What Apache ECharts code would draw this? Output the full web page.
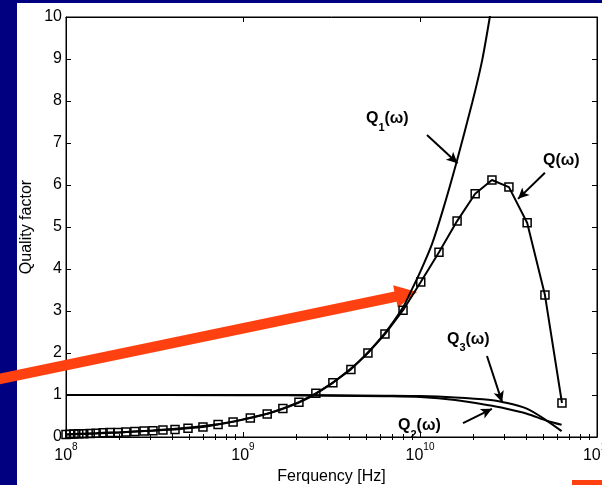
<!DOCTYPE html>
<html><head><meta charset="utf-8">
<script src="https://cdn.jsdelivr.net/npm/echarts@6/dist/echarts.min.js"></script>
<style>html,body{margin:0;padding:0;background:#000080;}#c{width:602px;height:485px;}</style>
</head><body><div id="c"></div>
<script>
// ---- data ----
const qFreq = [1.00e8,1.05e8,1.11e8,1.18e8,1.26e8,1.37e8,1.48e8,1.62e8,1.77e8,1.97e8,
  2.18e8,2.45e8,2.76e8,3.10e8,3.53e8,4.13e8,4.89e8,5.94e8,7.23e8,8.79e8,
  1.10e9,1.37e9,1.68e9,2.07e9,2.58e9,3.22e9,4.07e9,5.08e9,6.34e9,8.02e9,
  1.01e10,1.28e10,1.62e10,2.05e10,2.55e10,3.18e10,4.03e10,5.08e10,6.34e10];
const qValues = [0.06,0.065,0.07,0.075,0.08,0.085,0.09,0.10,0.105,0.11,
  0.12,0.13,0.14,0.15,0.165,0.18,0.21,0.24,0.30,0.36,
  0.45,0.55,0.68,0.83,1.04,1.29,1.61,2.00,2.45,3.02,
  3.69,4.40,5.14,5.79,6.12,5.95,5.10,3.38,0.81];
const q1Freq = [1e8,2e8,4e8,7e8,1e9,1.5e9,2.2e9,3.2e9,4.5e9,6.3e9,8.0e9,8.8e9,1.0e10,1.17e10,1.35e10,1.61e10,1.97e10,2.24e10,2.48e10,2.75e10];
const q1Values = [0.06,0.11,0.19,0.30,0.42,0.60,0.87,1.29,1.79,2.46,3.08,3.43,3.92,4.60,5.42,6.55,7.95,8.95,10.0,11.2];
const q23Freq = [1e8,1e9,3.16e9,6.31e9,1e10,1.58e10,2.51e10,2.88e10,3.98e10,5.25e10,6.31e10];
const q3Values = [1.0,1.0,0.995,0.985,0.975,0.94,0.88,0.84,0.68,0.38,0.14];
const q2Values = [1.0,0.995,0.985,0.97,0.95,0.88,0.75,0.70,0.56,0.38,0.29];
const xMajorTicks = [1e8,1e9,1e10,1e11];
const xMinorTicks = [];
for (let d = 8; d <= 10; d++) for (let k = 2; k <= 9; k++) xMinorTicks.push(k * Math.pow(10, d));
const xTitle = 'Ferquency [Hz]';
const yTitle = 'Quality factor';
// annotation labels: [name, subscript, freq, value] (left edge / centre of text)
const annotLabels = [
  ['Q','1',4.95e9,7.57],
  ['Q','',4.95e10,6.57],
  ['Q','3',1.42e10,2.32],
  ['Q','2',7.51e9,0.26]
];
// annotation arrows: from [freq, value] to [freq, value]
const annotArrows = [
  [[1.095e10,7.19],[1.63e10,6.52]],
  [[5.08e10,6.29],[3.58e10,5.67]],
  [[2.39e10,1.93],[2.91e10,0.83]],
  [[1.75e10,0.33],[2.55e10,0.67]]
];
// big orange pointer: tail and tip in data coordinates
const pointerTail = [4.13e7,1.376];
const pointerTip = [9.62e9,3.45];

const font = "'Liberation Sans', Arial, Helvetica, sans-serif";
const chart = echarts.init(document.getElementById('c'));
const pairs = (xs, ys) => xs.map((x, i) => [x, ys[i]]);
const baseX = {type:'log', logBase:10, min:1e8, max:1e11, splitLine:{show:false}, gridIndex:0};
const tickStyle = {color:'#000', width:1};

chart.setOption({
  backgroundColor:'#000080',
  animation:false,
  grid:{left:66, right:5, top:17, bottom:48, outerBoundsMode:'none', containLabel:false,
        show:true, borderColor:'#000', borderWidth:1, backgroundColor:'rgba(0,0,0,0)'},
  xAxis:[
    Object.assign({}, baseX, {position:'bottom',
      axisLine:{show:true, onZero:false, lineStyle:{color:'#000', width:1}},
      axisTick:{show:true, inside:true, length:5, lineStyle:tickStyle, customValues:xMajorTicks},
      axisLabel:{show:true, margin:5, customValues:xMajorTicks, showMinLabel:true, showMaxLabel:true,
        formatter:v => '{b|10}{s|' + Math.round(Math.log10(v)) + '}',
        rich:{b:{fontSize:16, fontFamily:font, color:'#000', lineHeight:16, verticalAlign:'bottom'},
              s:{fontSize:10, fontFamily:font, color:'#000', lineHeight:22, verticalAlign:'top'}}},
      name:xTitle, nameLocation:'middle', nameGap:29,
      nameTextStyle:{fontSize:16, fontFamily:font, color:'#000'}}),
    Object.assign({}, baseX, {position:'bottom', axisLine:{show:false},
      axisTick:{show:true, inside:true, length:3, lineStyle:tickStyle, customValues:xMinorTicks},
      axisLabel:{show:false}}),
    Object.assign({}, baseX, {position:'top',
      axisLine:{show:true, onZero:false, lineStyle:{color:'#000', width:1}},
      axisTick:{show:true, inside:true, length:5, lineStyle:tickStyle, customValues:xMajorTicks},
      axisLabel:{show:false}}),
    Object.assign({}, baseX, {position:'top', axisLine:{show:false},
      axisTick:{show:true, inside:true, length:3, lineStyle:tickStyle, customValues:xMinorTicks},
      axisLabel:{show:false}})
  ],
  yAxis:[
    {type:'value', min:0, max:10, interval:1, position:'left', splitLine:{show:false},
     axisLine:{show:true, onZero:false, lineStyle:{color:'#000', width:1}},
     axisTick:{show:true, inside:true, length:5, lineStyle:tickStyle},
     axisLabel:{show:true, margin:4, fontSize:16, fontFamily:font, color:'#000'},
     name:yTitle, nameLocation:'middle', nameGap:31, nameRotate:90, nameMoveOverlap:false,
     nameTextStyle:{fontSize:16, fontFamily:font, color:'#000'}},
    {type:'value', min:0, max:10, interval:1, position:'right', splitLine:{show:false},
     axisLine:{show:true, onZero:false, lineStyle:{color:'#000', width:1}},
     axisTick:{show:true, inside:true, length:5, lineStyle:tickStyle},
     axisLabel:{show:false}}
  ],
  series:[
    {name:'Q1', type:'line', data:pairs(q1Freq, q1Values), showSymbol:false, symbol:'none', smooth:0.25,
     lineStyle:{color:'#000', width:2}, z:3,
     markLine:{silent:true, symbol:['none','arrow'], symbolSize:[8,11], label:{show:false},
       lineStyle:{color:'#000', width:2, type:'solid'},
       data:annotArrows.map(a => [{coord:a[0]},{coord:a[1]}])}},
    {name:'Q3', type:'line', data:pairs(q23Freq, q3Values), symbol:'none', smooth:0.3, lineStyle:{color:'#000', width:2}, z:3},
    {name:'Q2', type:'line', data:pairs(q23Freq, q2Values), symbol:'none', smooth:0.3, lineStyle:{color:'#000', width:2}, z:3},
    {name:'Q', type:'line', data:pairs(qFreq, qValues), symbol:'rect', symbolSize:8, showAllSymbol:true,
     itemStyle:{color:'rgba(0,0,0,0)', borderColor:'#000', borderWidth:1.5},
     lineStyle:{color:'#000', width:2}, z:4}
  ]
});

// overlay graphics positioned from data coordinates
const toPx = p => chart.convertToPixel({xAxisIndex:0, yAxisIndex:0}, p);
const tail = toPx(pointerTail), tip = toPx(pointerTip);
const dx = tip[0]-tail[0], dy = tip[1]-tail[1], len = Math.hypot(dx, dy);
const ux = dx/len, uy = dy/len, nx = -uy, ny = ux;
const headLen = 22, headHalf = 11.5, shaftHalf = 5.3;
const bx = tip[0]-ux*headLen, by = tip[1]-uy*headLen;
const arrowPts = [
  [tail[0]+nx*shaftHalf, tail[1]+ny*shaftHalf],
  [bx+nx*shaftHalf, by+ny*shaftHalf],
  [bx+nx*headHalf, by+ny*headHalf],
  [tip[0], tip[1]],
  [bx-nx*headHalf, by-ny*headHalf],
  [bx-nx*shaftHalf, by-ny*shaftHalf],
  [tail[0]-nx*shaftHalf, tail[1]-ny*shaftHalf]
];
const rich = {
  q:{fontSize:16, fontWeight:'bold', fontFamily:font, fill:'#000', lineHeight:16, verticalAlign:'top'},
  s:{fontSize:11, fontWeight:'bold', fontFamily:font, fill:'#000', lineHeight:22, verticalAlign:'bottom'}
};
const texts = annotLabels.map(l => {
  const p = toPx([l[2], l[3]]);
  return {type:'text', x:p[0], y:p[1]-8, z:10,
    style:{text:'{q|' + l[0] + '}' + (l[1] ? '{s|' + l[1] + '}' : '') + '{q|(ω)}', rich:rich,
      align:'left', verticalAlign:'top', fill:'#000'}};
});
chart.setOption({graphic:[
  {type:'rect', shape:{x:17, y:3, width:585, height:482}, style:{fill:'#fff'}, z:-10, silent:true},
  {type:'polygon', shape:{points:arrowPts}, style:{fill:'#ff4010'}, z:1, silent:true},
  {type:'rect', shape:{x:572, y:480, width:30, height:5}, style:{fill:'#ff4010'}, z:1, silent:true}
].concat(texts)});
</script>
</body></html>
